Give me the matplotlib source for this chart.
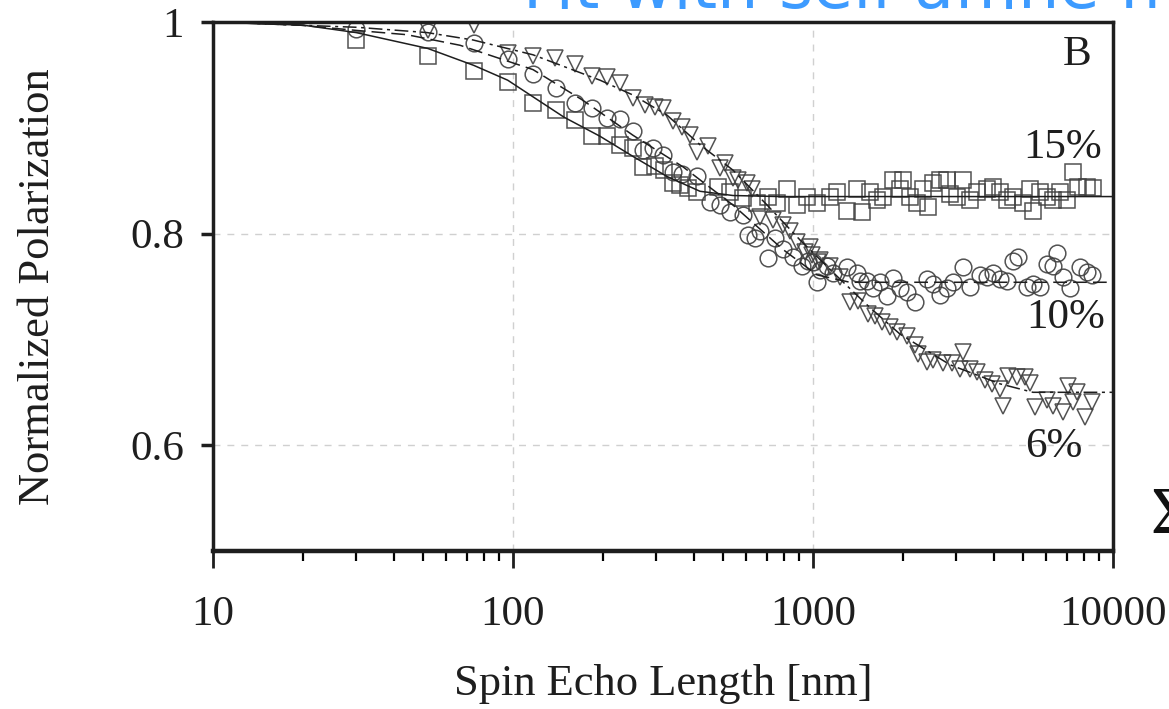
import matplotlib
matplotlib.use("Agg")
import matplotlib.pyplot as plt
from matplotlib.ticker import LogLocator, NullFormatter, FixedLocator

# 15% sample (squares)
sq_x = [30, 52, 74, 96, 117, 139, 161, 183, 206, 227, 251, 271, 297, 319, 341, 360, 383, 410,
        482, 529, 584, 650, 708, 759, 819, 884, 955,
        1031, 1140, 1202, 1298, 1402, 1457, 1549, 1634, 1711, 1849, 1950, 1995, 2104, 2222,
        2327, 2417, 2512, 2650, 2797, 2864, 3020, 3162, 3337, 3522, 3802, 3981, 4202, 4434,
        4643, 5012, 5289, 5410, 5710, 6026, 6310, 6659, 7028, 7356, 7638, 8185, 8577]
sq_y = [0.983, 0.968, 0.954, 0.943, 0.923, 0.917, 0.907, 0.892, 0.892, 0.884, 0.881, 0.863, 0.864,
        0.860, 0.848, 0.846, 0.843, 0.839,
        0.844, 0.839, 0.834, 0.829, 0.835, 0.829, 0.842, 0.827, 0.835,
        0.829, 0.835, 0.839, 0.821, 0.842, 0.820, 0.839, 0.832, 0.835, 0.851, 0.842, 0.851,
        0.835, 0.829, 0.842, 0.825, 0.848, 0.851, 0.851, 0.837, 0.835, 0.851, 0.832, 0.839,
        0.842, 0.844, 0.839, 0.832, 0.835, 0.829, 0.842, 0.821, 0.839, 0.835, 0.832, 0.839,
        0.832, 0.858, 0.844, 0.844, 0.843]

# 10% sample (circles)
ci_x = [30, 52, 74, 96, 117, 139, 161, 183, 206, 227, 251, 271, 293, 316, 341, 366, 410,
        454, 490, 529, 584, 607, 641, 666, 708, 747, 794, 858, 919, 962, 1000, 1031, 1056,
        1114, 1167, 1298, 1402, 1435, 1514, 1585, 1673, 1766, 1849, 1950, 2056, 2188, 2399,
        2512, 2650, 2797, 2929, 3162, 3337, 3606, 3802, 3981, 4202, 4434, 4643, 4820, 5164,
        5410, 5710, 6026, 6310, 6501, 6808, 7194, 7762, 8185, 8511]
ci_y = [0.993, 0.991, 0.980, 0.965, 0.951, 0.938, 0.923, 0.919, 0.909, 0.908, 0.897, 0.879,
        0.881, 0.874, 0.858, 0.856, 0.854,
        0.830, 0.827, 0.820, 0.818, 0.799, 0.796, 0.802, 0.777, 0.796, 0.785, 0.778, 0.769,
        0.774, 0.773, 0.754, 0.766,
        0.769, 0.763, 0.768, 0.763, 0.755, 0.755, 0.749, 0.754, 0.741, 0.758, 0.749, 0.745,
        0.735, 0.757, 0.752, 0.742, 0.749, 0.754, 0.768, 0.750, 0.761, 0.759, 0.763, 0.757,
        0.755, 0.774, 0.778, 0.750, 0.752, 0.750, 0.771, 0.769, 0.782, 0.759, 0.749, 0.768,
        0.764, 0.761]

# 6% sample (triangles)
tr_x = [52, 74, 96, 117, 138, 161, 183, 206, 227, 251, 275, 297, 316, 341, 366, 389, 410,
        447, 490, 509, 541, 562, 603, 626, 666, 735, 794, 838, 884, 940, 993, 1039,
        977, 1056, 1140, 1230, 1327, 1413, 1525, 1609, 1698, 1806, 1905, 2056, 2188, 2239,
        2399, 2512, 2712, 2904, 3162, 3090, 3337, 3522, 3741, 3954, 4202, 4299, 4467, 4786,
        5093, 5289, 5495, 6026, 6310, 6808, 7079, 7356, 7586, 8072, 8511]
tr_y = [0.992, 0.997, 0.971, 0.968, 0.966, 0.960, 0.949, 0.948, 0.942, 0.928, 0.922, 0.920,
        0.919, 0.906, 0.901, 0.893, 0.877,
        0.883, 0.862, 0.867, 0.853, 0.851, 0.848, 0.842, 0.816, 0.813, 0.808, 0.802, 0.792,
        0.783, 0.780, 0.773,
        0.787, 0.775, 0.769, 0.759, 0.735, 0.736, 0.724, 0.722, 0.716, 0.712, 0.707, 0.703,
        0.695, 0.686, 0.679, 0.681, 0.678, 0.678, 0.688, 0.672, 0.672, 0.669, 0.662, 0.658,
        0.653, 0.637, 0.665, 0.664, 0.664, 0.659, 0.636, 0.643, 0.637, 0.631, 0.656, 0.641,
        0.650, 0.627, 0.641]

# fit curves
fit15_x = [10, 20, 30, 52, 74, 96, 117, 148, 195, 251, 326, 420, 541, 776, 10000]
fit15_y = [1.0, 0.997, 0.990, 0.975, 0.959, 0.945, 0.929, 0.910, 0.892, 0.873, 0.854, 0.840,
           0.836, 0.835, 0.835]
fit10_x = [10, 19.5, 30.2, 44.3, 66.6, 116.6, 171, 251, 369, 541, 794, 1031, 1327, 10000]
fit10_y = [1.0, 0.997, 0.992, 0.988, 0.978, 0.955, 0.926, 0.893, 0.863, 0.827, 0.785, 0.761,
           0.754, 0.754]
fit6_x = [10, 30.2, 51.7, 73.6, 116.6, 195, 251, 326, 420, 541, 703, 905, 1230, 1549, 1950,
          2864, 4202, 5410, 10000]
fit6_y = [1.0, 0.995, 0.990, 0.983, 0.969, 0.945, 0.931, 0.912, 0.884, 0.860, 0.827, 0.794,
          0.757, 0.730, 0.705, 0.676, 0.658, 0.650, 0.650]

serif = "Liberation Serif"
ink = "#1e1e1e"

fig = plt.figure(figsize=(11.69, 7.09), dpi=100)
ax = fig.add_axes([213 / 1169, 1 - 551 / 709, 900 / 1169, 529 / 709])

mk = dict(linestyle="none", markerfacecolor="none", markeredgecolor="#404040",
          markeredgewidth=1.1, alpha=0.9)
ax.plot(sq_x, sq_y, marker="s", markersize=11.5, **mk)
ax.plot(ci_x, ci_y, marker="o", markersize=12, **mk)
ax.plot(tr_x, tr_y, marker="v", markersize=12, **mk)

ax.plot(fit15_x, fit15_y, color=ink, lw=1.1, linestyle="-")
ax.plot(fit10_x, fit10_y, color=ink, lw=1.1, linestyle=(0, (9, 4)))
ax.plot(fit6_x, fit6_y, color=ink, lw=1.1, linestyle=(0, (9, 3, 2, 3)))

ax.set_xscale("log")
ax.set_xlim(10, 10000)
ax.set_ylim(0.5, 1.0)
ax.set_xticks([10, 100, 1000, 10000])
ax.set_xticklabels(["10", "100", "1000", "10000"])
ax.xaxis.set_minor_locator(LogLocator(base=10, subs=range(2, 10)))
ax.xaxis.set_minor_formatter(NullFormatter())
ax.yaxis.set_major_locator(FixedLocator([0.6, 0.8, 1.0]))
ax.set_yticklabels(["0.6", "0.8", "1"])

ax.grid(True, which="major", color="#d0d0d0", linestyle=(0, (5, 5)), linewidth=1.0)

for s in ax.spines.values():
    s.set_linewidth(2.5)
    s.set_color(ink)
ax.spines["bottom"].set_linewidth(3.2)

ax.tick_params(axis="x", which="major", direction="out", length=12, width=2, pad=20,
               labelsize=31, colors=ink)
ax.tick_params(axis="x", which="minor", direction="out", length=7, width=1.6)
ax.tick_params(axis="y", which="major", direction="out", length=9, width=2.5, pad=12,
               labelsize=31, colors=ink)
for lab in ax.get_xticklabels() + ax.get_yticklabels():
    lab.set_fontfamily(serif)

ax.set_xlabel("Spin Echo Length [nm]", fontsize=32, family=serif, labelpad=22, color=ink)
ax.set_ylabel("Normalized Polarization", fontsize=32, family=serif, labelpad=52, color=ink)

ax.text(0.96, 0.938, "B", transform=ax.transAxes, ha="center", va="center", fontsize=31,
        family=serif, color=ink)
ax.text(0.988, 0.762, "15%", transform=ax.transAxes, ha="right", va="center", fontsize=31,
        family=serif, color=ink)
ax.text(0.991, 0.44, "10%", transform=ax.transAxes, ha="right", va="center", fontsize=31,
        family=serif, color=ink)
ax.text(0.966, 0.197, "6%", transform=ax.transAxes, ha="right", va="center", fontsize=31,
        family=serif, color=ink)

# slide title and symbol cut by the crop
fig.text(523 / 1169, 1 - 8 / 709, "Fit with self-affine model", fontsize=47,
         family="DejaVu Sans", color="#3d9bff", va="baseline", ha="left")
fig.text(1150 / 1169, 1 - 533 / 709, "Σ", fontsize=48, family=serif, color="#111111",
         va="baseline", ha="left")

fig.savefig("out.png", dpi=100)
